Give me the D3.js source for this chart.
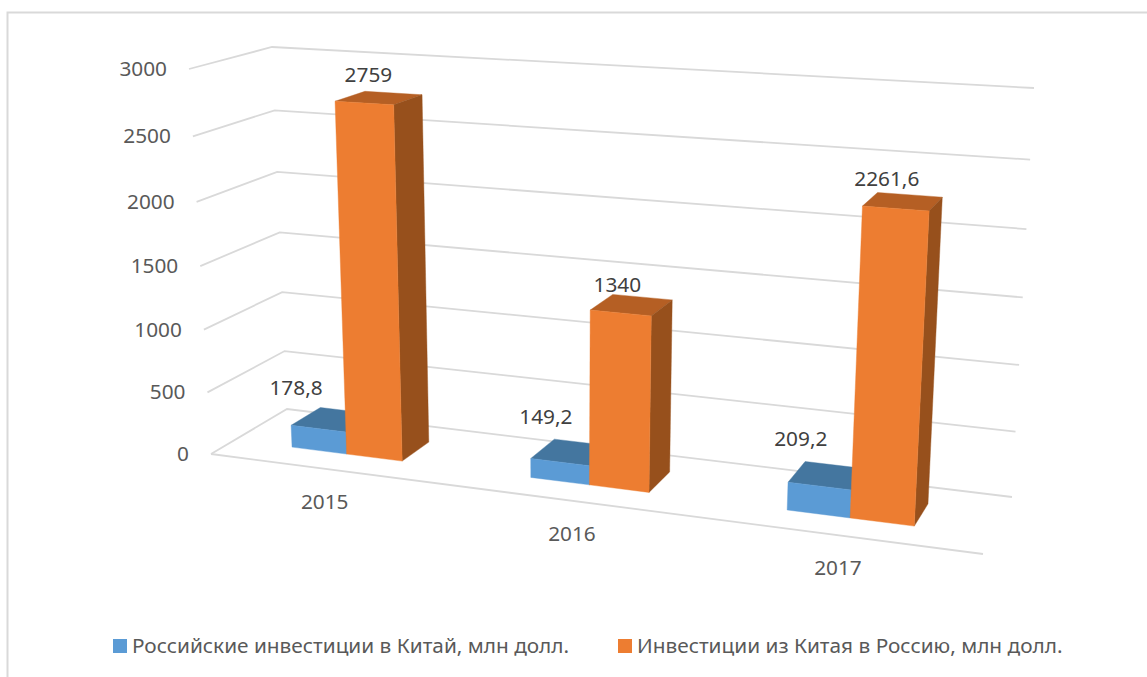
<!DOCTYPE html>
<html><head><meta charset="utf-8">
<script src="https://cdn.jsdelivr.net/npm/d3@7/dist/d3.min.js"></script>
<style>html,body{margin:0;background:#fff}svg{display:block}text{font-family:"Noto Sans",sans-serif}</style>
</head><body><svg id="c" width="1147" height="677"></svg>
<script>
const categories = ["2015","2016","2017"];
const seriesNames = ["Российские инвестиции в Китай, млн долл.","Инвестиции из Китая в Россию, млн долл."];
const russia = [178.8,149.2,209.2];
const china = [2759,1340,2261.6];
const russiaLabels = ["178,8","149,2","209,2"];
const chinaLabels = ["2759","1340","2261,6"];
const ticks = [0,500,1000,1500,2000,2500,3000];
// layout nudges for the data labels, in pixels
const russiaNudge = [[-51,-16],[-37,-19],[-35,-19]];
const chinaNudge = [[-25,-11],[-25,-5],[-23,-9]];

const svg = d3.select("#c");
// floor / ceiling corners of the 3-D box: [front-left, front-right, back-right, back-left]
const floorQ = [[211,454],[983,554],[1012,497],[287,409]];
const topQ = [[189,69],[1008,116],[1034,88],[272,47]];
function homography(q){
  const [p0,p1,p2,p3]=q;
  const dx1=p1[0]-p2[0],dx2=p3[0]-p2[0],sx=p0[0]-p1[0]+p2[0]-p3[0];
  const dy1=p1[1]-p2[1],dy2=p3[1]-p2[1],sy=p0[1]-p1[1]+p2[1]-p3[1];
  const den=dx1*dy2-dx2*dy1;
  const g=(sx*dy2-dx2*sy)/den,h=(dx1*sy-sx*dy1)/den;
  const a=p1[0]-p0[0]+g*p1[0],b=p3[0]-p0[0]+h*p3[0],c=p0[0];
  const d=p1[1]-p0[1]+g*p1[1],e=p3[1]-p0[1]+h*p3[1],f=p0[1];
  return (u,w)=>{const k=g*u+h*w+1;return [(a*u+b*w+c)/k,(d*u+e*w+f)/k];};
}
const hF=homography(floorQ),hT=homography(topQ);
const vScale=d3.scaleLinear().domain(ticks).range([0,.16,.323,.488,.655,.825,1]);
const proj=(u,w,val)=>{const t=vScale(val),a=hF(u,w),b=hT(u,w);return [a[0]+(b[0]-a[0])*t,a[1]+(b[1]-a[1])*t];};
const x0=d3.scaleBand().domain(categories).range([-.005,.995]).paddingInner(.53).paddingOuter(.265);
const x1=d3.scaleBand().domain([0,1]).range([0,x0.bandwidth()]);
const depth=[.3,.7];
const line=d3.line();
const GRID="#d9d9d9";
const FS=20.8;
// frame
svg.append("path").attr("d","M7.5,677V12.5H1147").attr("fill","none").attr("stroke",GRID).attr("stroke-width",2);
// gridlines
const grid=svg.append("g");
ticks.forEach(t=>{
  grid.append("path").attr("d",line([proj(0,0,t),proj(0,1,t),proj(1,1,t)])).attr("fill","none").attr("stroke",GRID).attr("stroke-width",1.8);
});
grid.append("path").attr("d",line([proj(0,0,0),proj(1,0,0)])).attr("fill","none").attr("stroke",GRID).attr("stroke-width",1.8);
// tick labels
svg.append("g").selectAll("text").data(ticks).join("text")
  .attr("x",d=>proj(0,0,d)[0]-22).attr("y",d=>proj(0,0,d)[1]+7).attr("text-anchor","end")
  .attr("font-size",FS).attr("fill","#595959").text(d=>d);
// category labels
svg.append("g").selectAll("text").data(categories).join("text")
  .attr("x",d=>proj(x0(d)+x0.bandwidth()/2,0,0)[0]).attr("y",d=>proj(x0(d)+x0.bandwidth()/2,0,0)[1]+40).attr("text-anchor","middle")
  .attr("font-size",FS).attr("fill","#595959").text(d=>d);
// bars
const cols=[{f:"#5b9bd5",t:"#44769f",s:"#35608a"},{f:"#ed7d31",t:"#b55f24",s:"#97501c"}];
function bar(g,u0,u1,val,c){
  const P=proj;
  const poly=(pts,fill)=>g.append("path").attr("d",line(pts)+"Z").attr("fill",fill).attr("stroke",fill).attr("stroke-width",.4);
  poly([P(u0,depth[0],val),P(u1,depth[0],val),P(u1,depth[1],val),P(u0,depth[1],val)],c.t);
  poly([P(u1,depth[0],0),P(u1,depth[1],0),P(u1,depth[1],val),P(u1,depth[0],val)],c.s);
  poly([P(u0,depth[0],0),P(u1,depth[0],0),P(u1,depth[0],val),P(u0,depth[0],val)],c.f);
}
const bars=svg.append("g");
categories.forEach((cat,i)=>{
  [russia,china].forEach((arr,s)=>{
    const u0=x0(cat)+x1(s);
    bar(bars,u0,u0+x1.bandwidth(),arr[i],cols[s]);
  });
});
// data labels
const lab=svg.append("g");
categories.forEach((cat,i)=>{
  [[russia,russiaLabels,russiaNudge],[china,chinaLabels,chinaNudge]].forEach(([arr,txt,n],s)=>{
    const u=x0(cat)+x1(s)+x1.bandwidth()/2;
    const p=proj(u,depth[1],arr[i]);
    lab.append("text").attr("x",p[0]+n[i][0]).attr("y",p[1]+n[i][1]).attr("text-anchor","middle")
      .attr("font-size",FS).attr("fill","#404040").text(txt[i]);
  });
});
// legend
const lg=svg.append("g");
[[113,132],[618,637]].forEach(([sx,tx],i)=>{
  lg.append("rect").attr("x",sx).attr("y",639).attr("width",14).attr("height",14).attr("fill",cols[i].f);
  lg.append("text").attr("x",tx).attr("y",653).attr("font-size",FS).attr("fill","#595959").text(seriesNames[i]);
});
</script></body></html>
